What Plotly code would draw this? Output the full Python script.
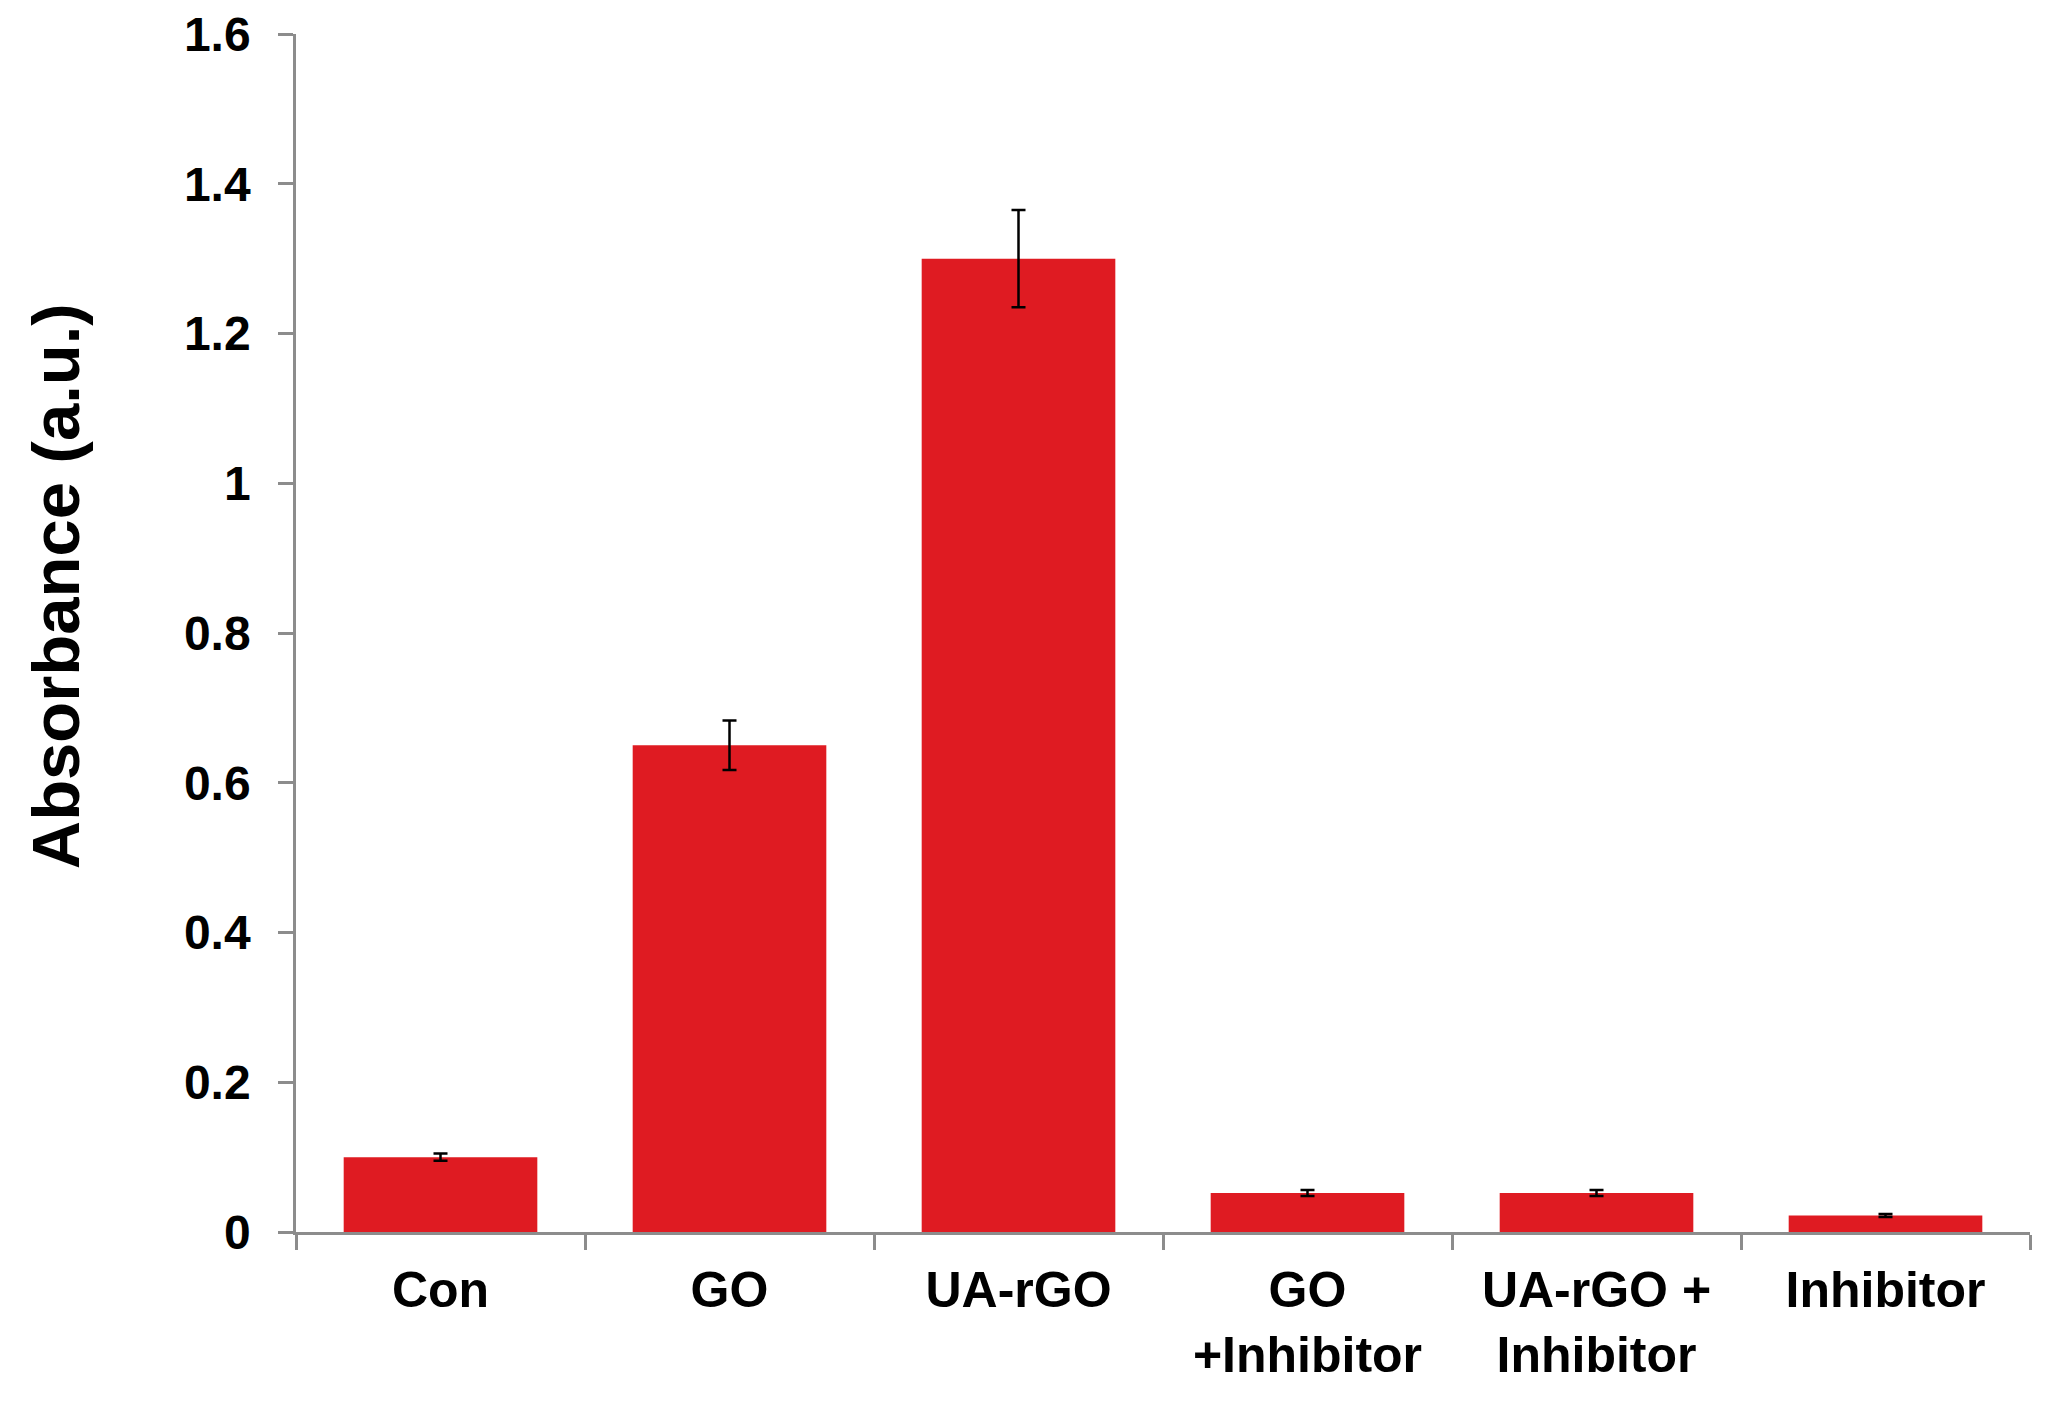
import plotly.graph_objects as go

categories = ["Con", "GO", "UA-rGO", "GO<br>+Inhibitor", "UA-rGO +<br>Inhibitor", "Inhibitor"]
absorbance = [0.100, 0.650, 1.300, 0.052, 0.052, 0.022]
errors = [0.005, 0.033, 0.065, 0.004, 0.004, 0.002]
y_tick_vals = [0, 0.2, 0.4, 0.6, 0.8, 1.0, 1.2, 1.4, 1.6]
y_tick_text = ["0", "0.2", "0.4", "0.6", "0.8", "1", "1.2", "1.4", "1.6"]
y_title = "Absorbance (a.u.)"

font_family = "Liberation Sans, Arial, sans-serif"

fig = go.Figure()
fig.add_trace(go.Bar(
    x=categories,
    y=absorbance,
    marker=dict(color="#DF1B22", line=dict(width=0)),
    error_y=dict(type="data", array=errors, visible=True,
                 color="black", thickness=2.5, width=7),
))

fig.update_layout(
    width=2035, height=1387,
    paper_bgcolor="white", plot_bgcolor="white",
    margin=dict(l=288, r=13, t=26, b=163),
    bargap=0.33,
    showlegend=False,
    font=dict(family=font_family, color="black"),
)
fig.update_xaxes(
    automargin=False,
    tickvals=categories,
    ticktext=["<b>%s</b>" % c for c in categories],
    showline=True, linecolor="#8C8C8C", linewidth=2.5,
    ticks="outside", tickson="boundaries", ticklen=15, tickwidth=2.5, tickcolor="#8C8C8C",
    ticklabelstandoff=12, ticklabeloverflow="allow",
    tickfont=dict(family=font_family, size=50, color="black"),
    showgrid=False, zeroline=False,
)
fig.update_yaxes(
    automargin=False,
    range=[0, 1.6],
    tickvals=y_tick_vals,
    ticktext=["<b>%s</b>" % t for t in y_tick_text],
    showline=True, linecolor="#8C8C8C", linewidth=2.5,
    ticks="outside", ticklen=15, tickwidth=2.5, tickcolor="#8C8C8C",
    ticklabelstandoff=18, ticklabeloverflow="allow",
    tickfont=dict(family=font_family, size=48, color="black"),
    showgrid=False, zeroline=False,
)
fig.add_annotation(
    text="<b>%s</b>" % y_title, textangle=-90,
    xref="paper", yref="paper", x=-0.139, y=0.539,
    xanchor="center", yanchor="middle", showarrow=False,
    font=dict(family=font_family, size=67, color="black"),
)

fig.write_html("out.html")
